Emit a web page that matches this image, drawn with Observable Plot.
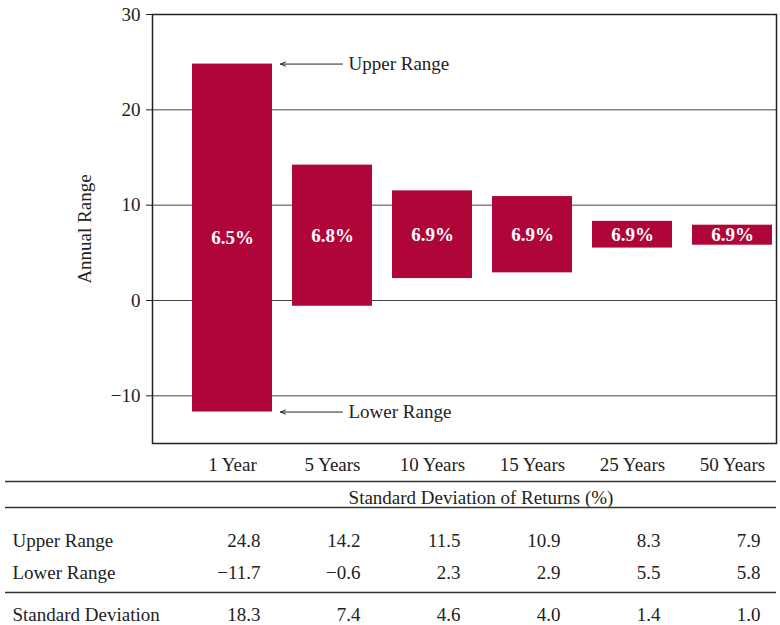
<!DOCTYPE html>
<html><head><meta charset="utf-8">
<script src="https://cdn.jsdelivr.net/npm/d3@7"></script>
<script src="https://cdn.jsdelivr.net/npm/@observablehq/plot@0.6"></script>
<style>
body{margin:0;background:#fff;}
#chart svg{display:block;}
</style></head><body><div id="chart"></div>
<script>
// ---- data ----
const periods = ["1 Year","5 Years","10 Years","15 Years","25 Years","50 Years"];
const upperRange = [24.8,14.2,11.5,10.9,8.3,7.9];
const lowerRange = [-11.7,-0.6,2.3,2.9,5.5,5.8];
const averageReturn = [6.5,6.8,6.9,6.9,6.9,6.9];
const stdDev = [18.3,7.4,4.6,4.0,1.4,1.0];
const yTicks = [-10,0,10,20,30];
const gridValues = [-10,0,10,20];
const rowLabels = ["Upper Range","Lower Range","Standard Deviation"];
const tableTitle = "Standard Deviation of Returns (%)";
const yLabel = "Annual Range";
const annotationLabels = ["Upper Range","Lower Range"];

// ---- build ----
const data = periods.map((p,i)=>({period:p, upper:upperRange[i], lower:lowerRange[i], avg:averageReturn[i], sd:stdDev[i]}));
const annotations = [
  {label: annotationLabels[0], x: periods[0], y: upperRange[0]},
  {label: annotationLabels[1], x: periods[0], y: lowerRange[0]}
];
const FONT = "'Liberation Serif', 'Times New Roman', serif";
const RED = "#b00538";
const xScale = {domain: periods, range: [180, 783], paddingInner: 0.2, paddingOuter: 0.1, axis: null};
const fmt = v => (v < 0 ? "\u2212" : "") + Math.abs(v).toFixed(1);

const chart = Plot.plot({
  width: 780, height: 475,
  marginTop: 14, marginLeft: 152, marginRight: 4, marginBottom: 32,
  style: {fontFamily: FONT, fontSize: "19px", color: "#222", background: "#fff"},
  x: xScale,
  y: {domain: [-15, 30]},
  marks: [
    Plot.ruleY(gridValues, {stroke: "#444", strokeWidth: 1}),
    Plot.barY(data, {x: "period", y1: "lower", y2: "upper", fill: RED}),
    Plot.text(data, {x: "period", y: d => (d.upper + d.lower) / 2, text: d => d.avg.toFixed(1) + "%",
      fill: "white", fontWeight: "bold", fontSize: 19}),
    Plot.arrow(annotations, {x1: () => periods[1], x2: "x", y1: "y", y2: "y",
      insetStart: -10, insetEnd: 48, stroke: "#222", strokeWidth: 1, headLength: 8, headAngle: 45}),
    Plot.text(annotations, {x: "x", y: "y", text: "label", dx: 116, textAnchor: "start", fill: "#222", fontSize: 19}),
    Plot.axisX({tickSize: 0, tickPadding: 14, fontSize: 19}),
    Plot.axisY({ticks: yTicks, tickSize: 6, tickPadding: 6, fontSize: 19, label: yLabel,
      labelAnchor: "center", labelOffset: 75, labelArrow: false}),
    Plot.frame({stroke: "#222", strokeWidth: 1.5})
  ]
});

const rowKeys = ["title", ...rowLabels];
const rowValues = {"Upper Range": upperRange, "Lower Range": lowerRange, "Standard Deviation": stdDev};
const rowShift = {"Upper Range": 4, "Lower Range": -3, "Standard Deviation": 0};
const tableMarks = [
  Plot.text([tableTitle], {y: () => "title", text: d => d, dx: 90, fill: "#222"}),
  Plot.ruleY([rowKeys[0]], {dy: -16, stroke: "#333", strokeWidth: 1.5}),
  Plot.ruleY([rowKeys[3]], {dy: -22, stroke: "#333", strokeWidth: 1.5}),
  Plot.ruleY([rowKeys[0]], {dy: 10, stroke: "#333", strokeWidth: 1.5})
];
rowLabels.forEach(r => {
  tableMarks.push(Plot.text([r], {y: d => d, text: d => d, frameAnchor: "left", textAnchor: "start", dx: 7, dy: rowShift[r], fill: "#222"}));
  tableMarks.push(Plot.text(periods.map((p,i)=>({period:p, v: rowValues[r][i]})),
    {x: "period", y: () => r, text: d => fmt(d.v), textAnchor: "end", dx: 28, dy: rowShift[r], fill: "#222"}));
});
const table = Plot.plot({
  width: 780, height: 150,
  marginTop: 0, marginBottom: 0, marginLeft: 5, marginRight: 4,
  style: {fontFamily: FONT, fontSize: "19px", color: "#222", background: "#fff"},
  x: xScale,
  y: {type: "point", domain: rowKeys, range: [22, 139], padding: 0, axis: null},
  marks: tableMarks
});

document.getElementById("chart").append(chart, table);
</script></body></html>
